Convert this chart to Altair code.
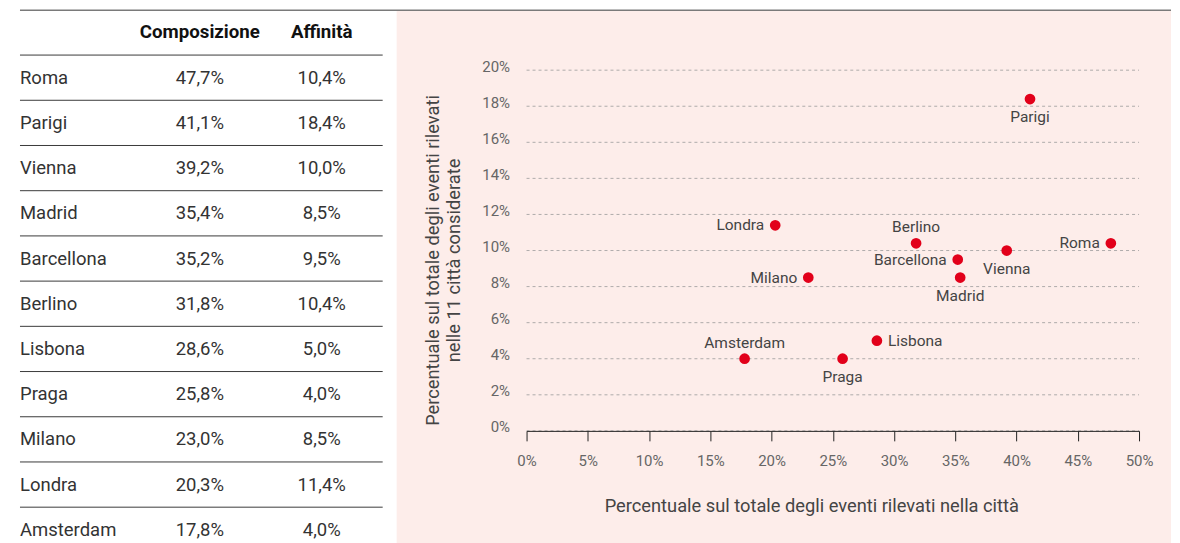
import altair as alt
import pandas as pd

# ---------------- data ----------------
cities = ["Roma", "Parigi", "Vienna", "Madrid", "Barcellona", "Berlino",
          "Lisbona", "Praga", "Milano", "Londra", "Amsterdam"]
composizione = [47.7, 41.1, 39.2, 35.4, 35.2, 31.8, 28.6, 25.8, 23.0, 20.3, 17.8]
affinita = [10.4, 18.4, 10.0, 8.5, 9.5, 10.4, 5.0, 4.0, 8.5, 11.4, 4.0]

header_labels = ["Composizione", "Affinità"]
x_title = "Percentuale sul totale degli eventi rilevati nella città"
y_title = ["Percentuale sul totale degli eventi rilevati", "nelle 11 città considerate"]
x_ticks = [0, 5, 10, 15, 20, 25, 30, 35, 40, 45, 50]
y_ticks = [0, 2, 4, 6, 8, 10, 12, 14, 16, 18, 20]

label_left = ["Roma", "Barcellona", "Milano", "Londra"]
label_below = ["Parigi", "Vienna", "Madrid", "Praga"]
label_above = ["Berlino", "Amsterdam"]
label_right = ["Lisbona"]

df = pd.DataFrame({"city": cities, "comp": composizione, "aff": affinita,
                   "row": list(range(1, len(cities) + 1))})
hdr = pd.DataFrame({"h": header_labels, "row": [0] * len(header_labels)})
seps = pd.DataFrame({"row": [i + 0.5 for i in range(len(cities))]})
grid_df = pd.DataFrame({"aff": y_ticks})
one = pd.DataFrame({"a": [0]})

FONT = "Roboto"
RED = "#e2001a"
PINK = "#fdedea"
TXT = "#333333"

# ---------------- table ----------------
TW, TH = 380, 524
ROWH = 45.25
d0 = -22.25 / ROWH
d1 = d0 + TH / ROWH
ty = alt.Y("row:Q", scale=alt.Scale(domain=[d0, d1], reverse=True, nice=False, zero=False), axis=None)

rules = alt.Chart(seps).mark_rule(color="#3a3a3a", strokeWidth=1).encode(
    y=ty, x=alt.value(12), x2=alt.value(375))

hstyle = dict(font=FONT, fontSize=18.7, fontWeight="bold", color="#111",
              align="center", baseline="middle")
header1 = alt.Chart(hdr).transform_filter(alt.datum.h == header_labels[0]).mark_text(**hstyle).encode(
    y=ty, x=alt.value(192), text="h:N")
header2 = alt.Chart(hdr).transform_filter(alt.datum.h == header_labels[1]).mark_text(**hstyle).encode(
    y=ty, x=alt.value(314), text="h:N")

tstyle = dict(font=FONT, fontSize=18.5, color=TXT, baseline="middle")
base = alt.Chart(df).encode(y=ty)
names = base.mark_text(align="left", **tstyle).encode(x=alt.value(12), text="city:N")
comp_t = base.transform_calculate(
    t="replace(format(datum.comp, '.1f'), '.', ',') + '%'"
).mark_text(align="center", **tstyle).encode(x=alt.value(192), text="t:N")
aff_t = base.transform_calculate(
    t="replace(format(datum.aff, '.1f'), '.', ',') + '%'"
).mark_text(align="center", **tstyle).encode(x=alt.value(314), text="t:N")

table = alt.layer(rules, header1, header2, names, comp_t, aff_t).properties(width=TW, height=TH)

# ---------------- scatter ----------------
SW, SH = 613, 421
ymax = 20 * SH / 361

xenc = alt.X("comp:Q", scale=alt.Scale(domain=[0, 50], nice=False, zero=False),
             axis=alt.Axis(values=x_ticks, labelExpr="datum.value + '%'", title=x_title,
                           grid=False, domainColor="#222", tickColor="#222", tickSize=10,
                           labelFlush=False, labelOverlap=False,
                           labelPadding=13, labelFontSize=15, labelColor="#666", labelFont=FONT,
                           titleFont=FONT, titleFontSize=18.3, titleColor="#444",
                           titleFontWeight="normal", titleX=285, titleY=76,
                           titleBaseline="middle", titleAlign="center", zindex=1))
yenc = alt.Y("aff:Q", scale=alt.Scale(domain=[0, ymax], nice=False, zero=False),
             axis=alt.Axis(values=y_ticks, labelExpr="datum.value + '%'", title=y_title,
                           domain=False, ticks=False, tickSize=0, grid=False,
                           labelFlush=False, labelOverlap=False,
                           labelPadding=17, labelOffset=-4, labelFontSize=15, labelColor="#666",
                           labelFont=FONT, titleFont=FONT, titleFontSize=18.3, titleColor="#444",
                           titleFontWeight="normal", titleAngle=270, titleX=-84, titleY=250,
                           titleBaseline="bottom", titleAlign="center", titleLineHeight=21,
                           zindex=1))

bg = alt.Chart(one).mark_rect(color=PINK).encode(
    x=alt.value(-130), x2=alt.value(645), y=alt.value(0), y2=alt.value(534))
topline = alt.Chart(one).mark_rule(color="#7a7a7a", strokeWidth=1.5).encode(
    x=alt.value(-507), x2=alt.value(645), y=alt.value(0))
grid = alt.Chart(grid_df).mark_rule(color="#9a9a9a", strokeWidth=0.8, strokeDash=[3, 3]).encode(
    y=yenc, x=alt.value(0), x2=alt.value(SW))

pts_base = alt.Chart(df).encode(x=xenc, y=yenc)
points = pts_base.mark_circle(size=115, color=RED, opacity=1)

lbl = dict(font=FONT, fontSize=15.5, color="#444")
t_left = pts_base.transform_filter(alt.FieldOneOfPredicate(field="city", oneOf=label_left)).mark_text(
    align="right", baseline="middle", dx=-11, **lbl).encode(text="city:N")
t_right = pts_base.transform_filter(alt.FieldOneOfPredicate(field="city", oneOf=label_right)).mark_text(
    align="left", baseline="middle", dx=11, **lbl).encode(text="city:N")
t_below = pts_base.transform_filter(alt.FieldOneOfPredicate(field="city", oneOf=label_below)).mark_text(
    align="center", baseline="middle", dy=18, **lbl).encode(text="city:N")
t_above = pts_base.transform_filter(alt.FieldOneOfPredicate(field="city", oneOf=label_above)).mark_text(
    align="center", baseline="middle", dy=-16, **lbl).encode(text="city:N")

scatter = alt.layer(bg, topline, grid, points, t_left, t_right, t_below, t_above).properties(
    width=SW, height=SH)

chart = alt.hconcat(table, scatter, spacing=139, bounds="flush").properties(
    padding={"top": 1, "left": 0, "right": 0, "bottom": 0}, background="white"
).configure(font=FONT, view=alt.ViewConfig(stroke=None))

chart.save("out.html", embed_options={"renderer": "svg", "actions": False})
